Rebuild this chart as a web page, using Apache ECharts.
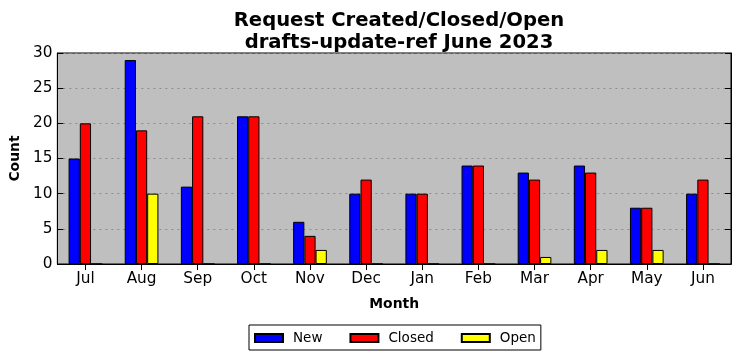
<!DOCTYPE html>
<html>
<head>
<meta charset="utf-8">
<script src="https://cdn.jsdelivr.net/npm/echarts@6/dist/echarts.min.js"></script>
<style>
html,body{margin:0;padding:0;background:#fff;}
#chart{width:742px;height:361px;}
</style>
</head>
<body>
<div id="chart"></div>
<script>
var months = ['Jul','Aug','Sep','Oct','Nov','Dec','Jan','Feb','Mar','Apr','May','Jun'];
var newCounts = [15, 29, 11, 21, 6, 10, 10, 14, 13, 14, 8, 10];
var closedCounts = [20, 19, 21, 21, 4, 12, 10, 14, 12, 13, 8, 12];
var openCounts = [0, 10, 0, 0, 2, 0, 0, 0, 1, 2, 2, 0];
var yTicks = [0, 5, 10, 15, 20, 25, 30];

var FONT = 'DejaVu Sans';
var chart = echarts.init(document.getElementById('chart'), null, {renderer: 'canvas'});

function barSeries(name, data, color) {
  return {
    name: name, type: 'bar', data: data,
    xAxisIndex: 0, yAxisIndex: 0,
    barGap: '0%', barCategoryGap: '40%',
    itemStyle: {color: color, borderColor: '#000', borderWidth: 1},
    emphasis: {disabled: true},
    animation: false
  };
}

chart.setOption({
  animation: false,
  textStyle: {fontFamily: FONT},
  title: {
    text: 'Request Created/Closed/Open\ndrafts-update-ref June 2023',
    left: 394, top: 5, textAlign: 'center',
    textStyle: {fontFamily: FONT, fontWeight: 'bold', fontSize: 19.6, lineHeight: 22, color: '#000'}
  },
  grid: {
    left: 56, right: 11, top: 53, bottom: 97,
    show: true, backgroundColor: '#bfbfbf', borderColor: '#000', borderWidth: 1
  },
  legend: {
    data: ['New', 'Closed', 'Open'],
    left: 249, top: 325,
    icon: 'rect', itemWidth: 28, itemHeight: 8, itemGap: 27,
    padding: [6, 5, 5, 5],
    backgroundColor: '#fff', borderColor: '#000', borderWidth: 1, borderRadius: 0,
    textStyle: {fontFamily: FONT, fontSize: 13.5, color: '#000', padding: [0, 0, 0, 5]},
    selectedMode: false
  },
  xAxis: [{
    type: 'category', data: months, position: 'bottom',
    name: 'Month', nameLocation: 'middle', nameGap: 33,
    nameTextStyle: {fontFamily: FONT, fontWeight: 'bold', fontSize: 13.9, color: '#000'},
    axisLine: {show: true, lineStyle: {color: '#000', width: 1}},
    axisTick: {show: true, inside: true, alignWithLabel: true, length: 6, lineStyle: {color: '#000'}},
    axisLabel: {fontFamily: FONT, fontSize: 15.3, color: '#000', margin: 8},
    splitLine: {show: false}
  }, {
    type: 'category', data: months, position: 'top',
    axisLine: {show: true, lineStyle: {color: '#000', width: 1}},
    axisTick: {show: true, inside: true, alignWithLabel: true, length: 6, lineStyle: {color: '#000'}},
    axisLabel: {show: false},
    splitLine: {show: false}
  }],
  yAxis: [{
    type: 'value', min: 0, max: 30, interval: 5, position: 'left',
    name: 'Count', nameLocation: 'middle', nameGap: 32, nameRotate: 90,
    nameTextStyle: {fontFamily: FONT, fontWeight: 'bold', fontSize: 13.9, color: '#000'},
    axisLine: {show: true, lineStyle: {color: '#000', width: 1}},
    axisTick: {show: true, inside: true, length: 6, lineStyle: {color: '#000'}},
    axisLabel: {fontFamily: FONT, fontSize: 15.3, color: '#000', margin: 5,
      formatter: function (v) { return yTicks.indexOf(v) >= 0 ? String(v) : ''; }},
    splitLine: {show: true, lineStyle: {color: '#8c8c8c', width: 1, type: [2, 4]}}
  }, {
    type: 'value', min: 0, max: 30, interval: 5, position: 'right',
    axisLine: {show: true, lineStyle: {color: '#000', width: 1}},
    axisTick: {show: true, inside: true, length: 6, lineStyle: {color: '#000'}},
    axisLabel: {show: false},
    splitLine: {show: false}
  }],
  series: [
    barSeries('New', newCounts, '#0000ff'),
    barSeries('Closed', closedCounts, '#ff0000'),
    barSeries('Open', openCounts, '#ffff00')
  ]
});
</script>
</body>
</html>
